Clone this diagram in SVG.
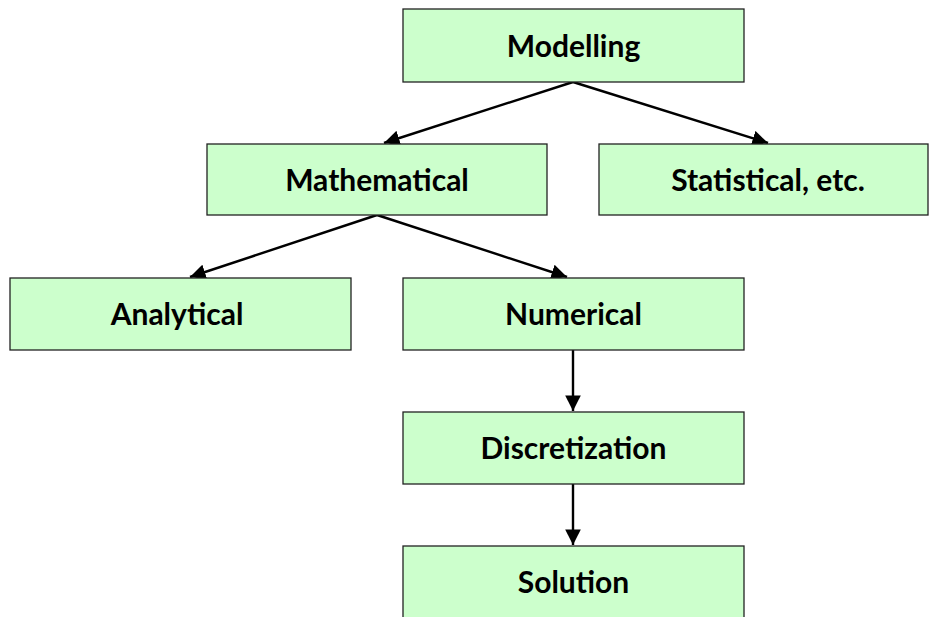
<svg xmlns="http://www.w3.org/2000/svg" width="931" height="617" viewBox="0 0 931 617">
<style>
.box{fill:#ccffcc;stroke:#222;stroke-width:1.3}
.lbl{font-family:Lato,"Open Sans",sans-serif;font-weight:bold;font-size:30px;fill:#000;text-anchor:middle}
.edge{stroke:#000;stroke-width:2.4;fill:none;marker-end:url(#ah)}
</style>
<defs>
<marker id="ah" viewBox="0 0 10 10" refX="10" refY="5" markerWidth="6.5" markerHeight="6.5" markerUnits="strokeWidth" orient="auto">
<path d="M0,0 L10,5 L0,10 z" fill="#000"/>
</marker>
</defs>
<rect width="931" height="617" fill="#fff"/>
<g id="connectors">
<line class="edge" x1="573" y1="82" x2="384" y2="143"/>
<line class="edge" x1="573" y1="82" x2="768" y2="143"/>
<line class="edge" x1="377" y1="215" x2="190" y2="277"/>
<line class="edge" x1="377" y1="215" x2="567" y2="277"/>
<line class="edge" x1="573" y1="350" x2="573" y2="411"/>
<line class="edge" x1="573" y1="484" x2="573" y2="545"/>
</g>
<g id="modelling"><rect class="box" x="403" y="9" width="341" height="73"/><text class="lbl" x="573.5" y="57">Modelling</text></g>
<g id="mathematical"><rect class="box" x="207" y="144" width="340" height="71"/><text class="lbl" x="377" y="191">Mathematical</text></g>
<g id="statistical"><rect class="box" x="599" y="144" width="329" height="71"/><text class="lbl" x="768" y="191">Statistical, etc.</text></g>
<g id="analytical"><rect class="box" x="10" y="278" width="341" height="72"/><text class="lbl" x="177" y="325">Analytical</text></g>
<g id="numerical"><rect class="box" x="403" y="278" width="341" height="72"/><text class="lbl" x="573.5" y="325">Numerical</text></g>
<g id="discretization"><rect class="box" x="403" y="412" width="341" height="72"/><text class="lbl" x="573.5" y="459">Discretization</text></g>
<g id="solution"><rect class="box" x="403" y="546" width="341" height="74"/><text class="lbl" x="573.5" y="593">Solution</text></g>
</svg>
